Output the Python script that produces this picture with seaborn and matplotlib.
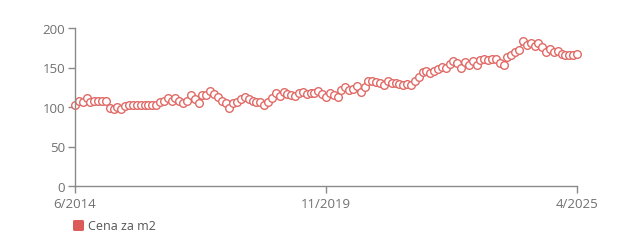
import matplotlib
matplotlib.use("Agg")
import matplotlib.pyplot as plt
import seaborn as sns
import pandas as pd
from matplotlib.patches import FancyBboxPatch

start_label = "6/2014"
mid_label = "11/2019"
end_label = "4/2025"
series_name = "Cena za m2"

values = [
    103, 107.5, 106, 111, 106, 107, 107, 107, 107, 99,
    98, 100, 98, 101, 102, 102, 103, 103, 103, 103,
    103, 103, 106, 107.5, 111, 108, 111, 107, 105, 107.5,
    115, 110, 105, 115, 115, 120, 117, 112.5, 108, 105,
    99, 104.5, 106, 110, 112.5, 109.5, 108, 106.5, 106, 103,
    106.5, 111.5, 118, 114, 119, 116, 115.5, 114, 118, 119,
    117, 118, 118, 120, 117, 113, 117.5, 115, 112.5, 122,
    125, 121, 122.5, 127, 119.5, 125, 132.5, 132.5, 132, 131,
    127.5, 133, 131, 130.5, 129, 128, 129, 128, 133.5, 137.5,
    144, 146, 142.5, 146, 147.5, 151, 149, 155, 158, 155.5,
    149, 157.5, 153, 158, 153, 160, 161, 159, 161, 161,
    156, 153, 163, 166, 170, 172.5, 183, 178, 181.5, 177.5,
    181, 176.5, 169, 173, 169, 171, 166.5, 166, 166, 166,
    166.5,
]
months = list(range(len(values)))

df = pd.DataFrame({"month": months, "value": values})

red = "#e06a66"
gray = "#8a8a8a"
text_gray = "#707070"

sns.set_theme(style="white")
plt.rcParams["font.family"] = ["Open Sans", "DejaVu Sans"]

fig = plt.figure(figsize=(6.2, 2.53), dpi=100)
ax = fig.add_axes([75 / 620, 1 - 187 / 253, (577 - 75) / 620, (187 - 29) / 253])

sns.lineplot(data=df, x="month", y="value", ax=ax, color=red, linewidth=0.9,
             marker="o", markersize=5.5, markerfacecolor="white",
             markeredgecolor=red, markeredgewidth=1.0, clip_on=False)

ax.set_xlim(0, len(values) - 1)
ax.set_ylim(0, 200)
ax.set_yticks([0, 50, 100, 150, 200])
ax.set_xticks([0, 65, len(values) - 1])
ax.set_xticklabels([start_label, mid_label, end_label])
ax.set_xlabel("")
ax.set_ylabel("")

for s in ["top", "right"]:
    ax.spines[s].set_visible(False)
for s in ["left", "bottom"]:
    ax.spines[s].set_color(gray)
    ax.spines[s].set_linewidth(1.0)

ax.tick_params(axis="both", which="both", length=5, width=1.0, color=gray,
               labelcolor=text_gray, labelsize=9.5, direction="out", pad=2,
               left=True, bottom=True)
ax.tick_params(axis="x", pad=3)

# legend
patch = FancyBboxPatch((73 / 620, 1 - 232 / 253), 11 / 620, 11 / 253,
                       boxstyle="round,pad=0,rounding_size=0.004",
                       transform=fig.transFigure, facecolor="#dc5a57",
                       edgecolor="none")
fig.patches.append(patch)
fig.text(88 / 620, 1 - 226.5 / 253, series_name, color="#555555",
         fontsize=9, va="center", ha="left")

fig.savefig("out.png", dpi=100)
